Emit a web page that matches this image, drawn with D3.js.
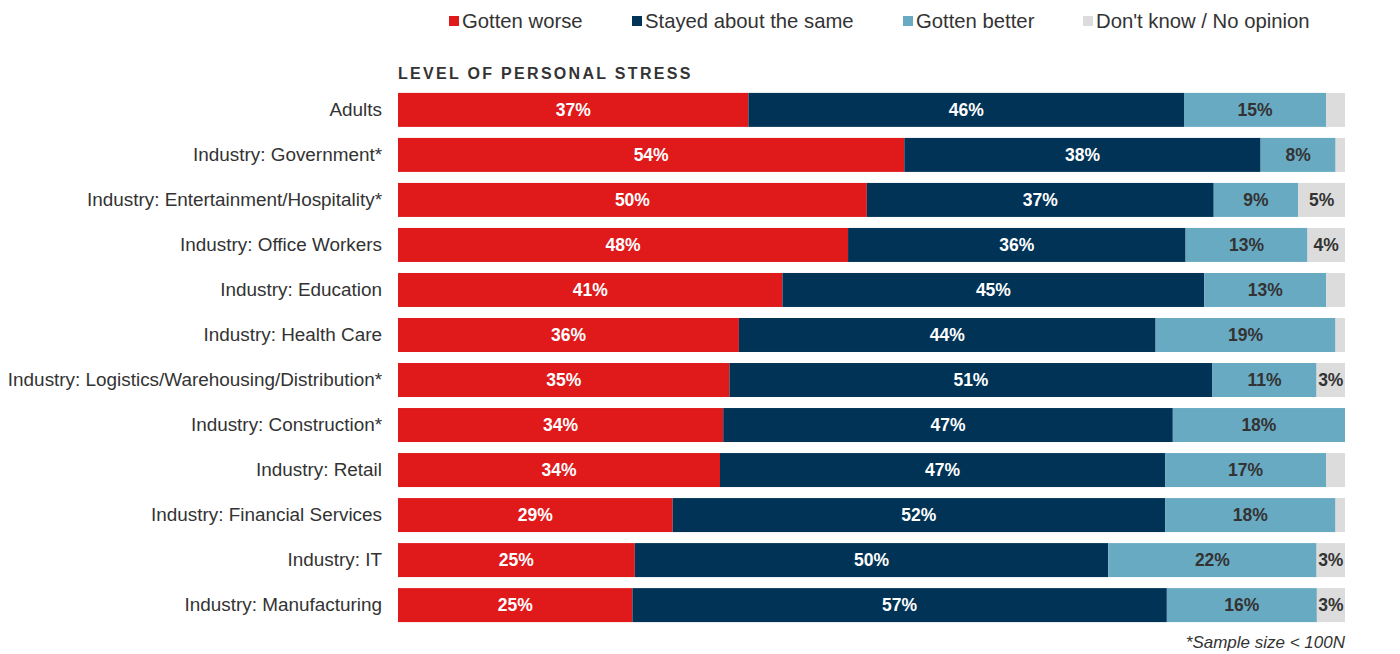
<!DOCTYPE html>
<html>
<head>
<meta charset="utf-8">
<script src="https://cdn.jsdelivr.net/npm/d3@7"></script>
<style>
  html, body { margin: 0; padding: 0; background: #fff; }
  svg { display: block; font-family: "Liberation Sans", Arial, sans-serif; }
</style>
</head>
<body>
<svg id="chart" width="1400" height="654"></svg>
<script>
// Survey groups, top to bottom
const categories = [
  "Adults",
  "Industry: Government*",
  "Industry: Entertainment/Hospitality*",
  "Industry: Office Workers",
  "Industry: Education",
  "Industry: Health Care",
  "Industry: Logistics/Warehousing/Distribution*",
  "Industry: Construction*",
  "Industry: Retail",
  "Industry: Financial Services",
  "Industry: IT",
  "Industry: Manufacturing"
];

// Share of respondents (%) per answer
const gottenWorse   = [37, 54, 50, 48, 41, 36, 35, 34, 34, 29, 25, 25];
const stayedSame    = [46, 38, 37, 36, 45, 44, 51, 47, 47, 52, 50, 57];
const gottenBetter  = [15,  8,  9, 13, 13, 19, 11, 18, 17, 18, 22, 16];
const dontKnow      = [ 2,  1,  5,  4,  2,  1,  3,  0,  2,  1,  3,  3];

const seriesNames  = ["Gotten worse", "Stayed about the same", "Gotten better", "Don't know / No opinion"];
const seriesColors = ["#e0191b", "#003356", "#69aac3", "#dcdcdc"];
const labelColors  = ["#ffffff", "#ffffff", "#333333", "#333333"];
const minLabelValue = 3;

const seriesValues = [gottenWorse, stayedSame, gottenBetter, dontKnow];

const rows = categories.map((c, i) => {
  const row = { category: c };
  seriesNames.forEach((s, k) => { row[s] = seriesValues[k][i]; });
  return row;
});

// Each row is shown as a 100% stacked bar
const stack = d3.stack()
  .keys(seriesNames)
  .offset(d3.stackOffsetExpand);
const layers = stack(rows);

const svg = d3.select("#chart");
const margin = { left: 398, right: 55, top: 93, bottom: 32 };
const width = 1400, height = 654;

const x = d3.scaleLinear().domain([0, 1]).range([margin.left, width - margin.right]);
const y = d3.scaleBand()
  .domain(categories)
  .range([margin.top - 5.5, 627.5])
  .paddingInner(0.245)
  .paddingOuter(0.12);

// Stacked segments
const g = svg.append("g");
layers.forEach((layer, k) => {
  const lg = g.append("g").attr("fill", seriesColors[k]);
  lg.selectAll("rect")
    .data(layer)
    .join("rect")
    .attr("x", d => x(d[0]))
    .attr("width", d => Math.max(0, x(d[1]) - x(d[0])))
    .attr("y", d => y(d.data.category))
    .attr("height", y.bandwidth());

  const tg = g.append("g")
    .attr("fill", labelColors[k])
    .attr("font-size", 17.5)
    .attr("font-weight", "bold")
    .attr("text-anchor", "middle");
  tg.selectAll("text")
    .data(layer.filter(d => d.data[seriesNames[k]] >= minLabelValue))
    .join("text")
    .attr("x", d => (x(d[0]) + x(d[1])) / 2)
    .attr("y", d => y(d.data.category) + y.bandwidth() / 2)
    .attr("dy", "0.36em")
    .text(d => d.data[seriesNames[k]] + "%");
});

// Category axis
const yAxis = svg.append("g")
  .attr("transform", `translate(${margin.left},0)`)
  .call(d3.axisLeft(y).tickSize(0).tickPadding(16));
yAxis.select(".domain").remove();
yAxis.selectAll("text")
  .attr("font-family", "'Liberation Sans', Arial, sans-serif")
  .attr("font-size", 18.9)
  .attr("fill", "#333");

// Section title
svg.append("text")
  .attr("x", margin.left)
  .attr("y", 79)
  .attr("font-size", 16)
  .attr("font-weight", "bold")
  .attr("letter-spacing", 2.3)
  .attr("fill", "#333")
  .text("LEVEL OF PERSONAL STRESS");

// Legend
const legendX = [449, 632, 903, 1083];
const legend = svg.append("g");
seriesNames.forEach((s, k) => {
  const lg = legend.append("g").attr("transform", `translate(${legendX[k]},21)`);
  lg.append("rect")
    .attr("x", 0).attr("y", -5)
    .attr("width", 10).attr("height", 10)
    .attr("fill", seriesColors[k]);
  lg.append("text")
    .attr("x", 13)
    .attr("dy", "0.35em")
    .attr("font-size", 20.3)
    .attr("fill", "#333")
    .text(s);
});

// Footnote
svg.append("text")
  .attr("x", width - margin.right)
  .attr("y", 648)
  .attr("text-anchor", "end")
  .attr("font-size", 17)
  .attr("font-style", "italic")
  .attr("fill", "#333")
  .text("*Sample size < 100N");
</script>
</body>
</html>
